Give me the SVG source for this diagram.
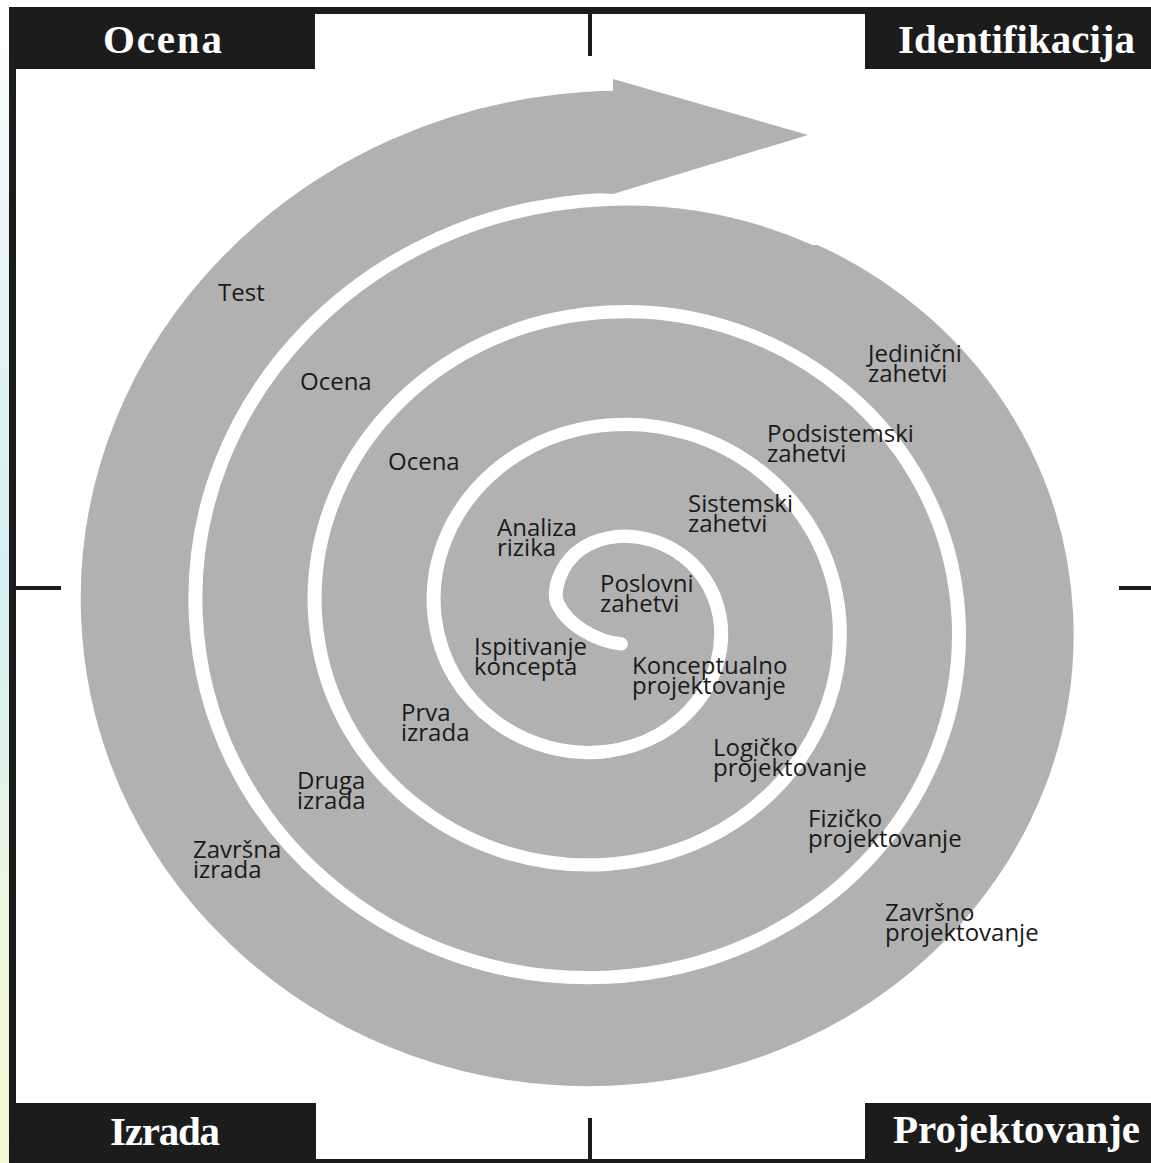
<svg xmlns="http://www.w3.org/2000/svg" width="1151" height="1163" viewBox="0 0 1151 1163">
<defs>
<linearGradient id="edge" x1="0" y1="0" x2="0" y2="1">
<stop offset="0" stop-color="#ffffff"/>
<stop offset="0.25" stop-color="#e4f2f7"/>
<stop offset="0.5" stop-color="#d8eef4"/>
<stop offset="0.75" stop-color="#e9f5e2"/>
<stop offset="1" stop-color="#f4f9d4"/>
</linearGradient>
<style>
.frame{fill:#1c1c1c}
.tick{stroke:#1c1c1c;stroke-width:4}
.hdr{font-family:"Liberation Serif","DejaVu Serif",serif;font-weight:bold;font-size:41px;fill:#ffffff}
.lbl{font-family:"Open Sans","Liberation Sans",sans-serif;font-size:24px;fill:#1a1a1a}
.gray{fill:#b1b1b1}
.band{fill:none;stroke:#b1b1b1;stroke-width:110}
.gap{fill:none;stroke:#ffffff;stroke-width:14;stroke-linecap:round}
</style>
</defs>
<rect width="1151" height="1163" fill="#ffffff"/>
<rect x="0" y="0" width="9" height="1163" fill="url(#edge)"/>

<g id="spiral">
<g transform="translate(607 616.5) scale(1 0.946)">
<circle class="gray" r="320"/>
<path class="band" d="M -112.7 0 C -123.2 -62.24 -78.73 -132.05 0 -142.55 C 78.73 -153.05 161.9 -95.22 172.4 0 C 182.9 95.22 111.7 191.75 0 202.25 C -111.7 212.75 -221.6 128.19 -232.1 0 C -242.6 -128.19 -144.68 -251.45 0 -261.95 C 144.68 -272.45 281.3 -161.16 291.8 0 C 302.3 161.16 177.65 311.15 0 321.65 C -177.65 332.15 -341 194.13 -351.5 0 C -362 -194.13 -210.62 -370.85 0 -381.35 C 210.62 -391.85 400.7 -227.11 411.2 0 C 421.7 227.11 243.59 430.55 0 441.05 C -243.59 451.55 -460.4 260.08 -470.9 0 C -481.4 -260.08 -276.56 -490.25 0 -500.75"/>
<path class="gap" d="M 14 29 C -8 27 -40 10 -50 -15 C -55 -28 -45.76 -72.35 0 -82.85 C 45.76 -93.35 102.2 -62.24 112.7 0 C 123.2 62.24 78.73 132.05 0 142.55 C -78.73 153.05 -161.9 95.22 -172.4 0 C -182.9 -95.22 -111.7 -191.75 0 -202.25 C 111.7 -212.75 221.6 -128.19 232.1 0 C 242.6 128.19 144.68 251.45 0 261.95 C -144.68 272.45 -281.3 161.16 -291.8 0 C -302.3 -161.16 -177.65 -311.15 0 -321.65 C 177.65 -332.15 341 -194.13 351.5 0 C 362 194.13 210.62 370.85 0 381.35 C -210.62 391.85 -400.7 227.11 -411.2 0 C -421.7 -227.11 -243.59 -430.55 0 -441.05 C 73.08 -444.2 143.75 -429.17 207.16 -399.57"/>
</g>
<polygon class="gray" points="597,91 613,91 613,79 808,135 613,194 597,193"/>
</g>

<g id="frame">
<rect class="frame" x="9" y="7" width="1142" height="7"/>
<rect class="frame" x="9" y="7" width="7" height="1156"/>
<rect class="frame" x="9" y="1159" width="1142" height="4"/>
<line class="tick" x1="590" y1="14" x2="590" y2="56"/>
<line class="tick" x1="590" y1="1118" x2="590" y2="1159"/>
<line class="tick" x1="16" y1="588" x2="61" y2="588"/>
<line class="tick" x1="1119" y1="588" x2="1151" y2="588"/>
</g>

<g id="q-ocena">
<rect class="frame" x="9" y="7" width="306" height="62"/>
<text class="hdr" x="103" y="53" textLength="119">Ocena</text>
</g>
<g id="q-identifikacija">
<rect class="frame" x="865" y="7" width="286" height="62"/>
<text class="hdr" x="898" y="53" textLength="237">Identifikacija</text>
</g>
<g id="q-izrada">
<rect class="frame" x="9" y="1103" width="307" height="60"/>
<text class="hdr" x="110" y="1145" textLength="110">Izrada</text>
</g>
<g id="q-projektovanje">
<rect class="frame" x="865" y="1103" width="286" height="60"/>
<text class="hdr" x="893" y="1143" textLength="247">Projektovanje</text>
</g>

<g id="labels">
<g id="l-test"><text class="lbl" x="218" y="301">Test</text></g>
<g id="l-ocena1"><text class="lbl" x="300" y="390">Ocena</text></g>
<g id="l-ocena2"><text class="lbl" x="388" y="470">Ocena</text></g>
<g id="l-jedinicni"><text class="lbl" x="868" y="362">Jedinični</text><text class="lbl" x="868" y="382">zahetvi</text></g>
<g id="l-podsistemski"><text class="lbl" x="767" y="442">Podsistemski</text><text class="lbl" x="767" y="462">zahetvi</text></g>
<g id="l-sistemski"><text class="lbl" x="688" y="512">Sistemski</text><text class="lbl" x="688" y="532">zahetvi</text></g>
<g id="l-analiza"><text class="lbl" x="497" y="536">Analiza</text><text class="lbl" x="497" y="556">rizika</text></g>
<g id="l-poslovni"><text class="lbl" x="600" y="592">Poslovni</text><text class="lbl" x="600" y="612">zahetvi</text></g>
<g id="l-ispitivanje"><text class="lbl" x="474" y="655">Ispitivanje</text><text class="lbl" x="474" y="675">koncepta</text></g>
<g id="l-konceptualno"><text class="lbl" x="632" y="674">Konceptualno</text><text class="lbl" x="632" y="694">projektovanje</text></g>
<g id="l-prva"><text class="lbl" x="401" y="721">Prva</text><text class="lbl" x="401" y="741">izrada</text></g>
<g id="l-logicko"><text class="lbl" x="713" y="756">Logičko</text><text class="lbl" x="713" y="776">projektovanje</text></g>
<g id="l-druga"><text class="lbl" x="297" y="789">Druga</text><text class="lbl" x="297" y="809">izrada</text></g>
<g id="l-fizicko"><text class="lbl" x="808" y="827">Fizičko</text><text class="lbl" x="808" y="847">projektovanje</text></g>
<g id="l-zavrsna"><text class="lbl" x="193" y="858">Završna</text><text class="lbl" x="193" y="878">izrada</text></g>
<g id="l-zavrsno"><text class="lbl" x="885" y="921">Završno</text><text class="lbl" x="885" y="941">projektovanje</text></g>
</g>
</svg>
